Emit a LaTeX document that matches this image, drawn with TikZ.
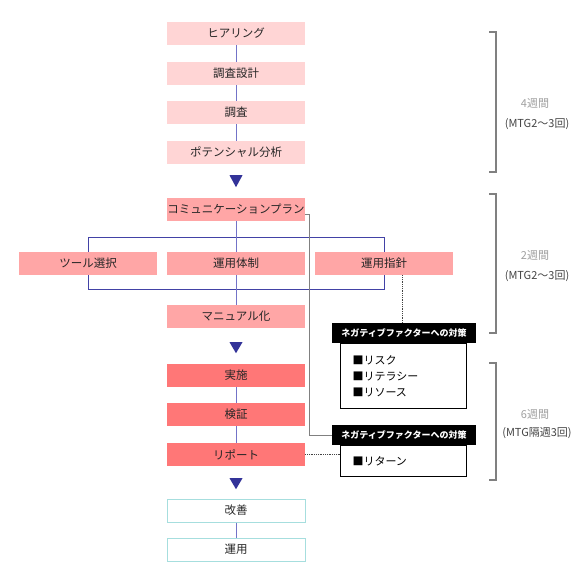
\documentclass[tikz,border=0pt]{standalone}
\usepackage{fontspec}
\setmainfont{Noto Sans CJK JP}
\usetikzlibrary{positioning, calc, backgrounds}
\definecolor{pinklt}{HTML}{FFD5D5}
\definecolor{pinkmd}{HTML}{FFA6A6}
\definecolor{pinkdk}{HTML}{FF7777}
\definecolor{cyanbd}{HTML}{A6DEDE}
\definecolor{linkblue}{HTML}{7373C8}
\definecolor{frameblue}{HTML}{4242A6}
\definecolor{navy}{HTML}{333399}
\definecolor{dkgray}{HTML}{444444}
\definecolor{ltgray}{HTML}{A0A0A0}
\definecolor{brgray}{HTML}{808080}

\begin{document}
\begin{tikzpicture}[x=1pt, y=-1pt,
  stage/.style={minimum width=138pt, minimum height=23pt, inner sep=0pt,
    font=\fontsize{11.5}{12}\selectfont, text=black!85},
  link/.style={draw=linkblue, line width=1pt},
  head/.style={fill=black, text=white, minimum width=144pt, minimum height=20pt,
    inner sep=0pt, font=\fontsize{9}{9}\selectfont\bfseries},
  memo/.style={draw=black, line width=0.8pt, minimum width=126pt, inner xsep=12pt,
    text width=101pt, align=left, font=\fontsize{11}{16}\selectfont},
  note/.style={font=\fontsize{11}{11}\selectfont}]

\useasboundingbox (0,0) rectangle (580,580);

% --- Research phase ---
\node[stage, fill=pinklt] (hear)   at (236,33.5)  {ヒアリング};
\node[stage, fill=pinklt] (design) at (236,73.5)  {調査設計};
\node[stage, fill=pinklt] (survey) at (236,112.5) {調査};
\node[stage, fill=pinklt] (anal)   at (236,152.5) {ポテンシャル分析};

\draw[link] (hear) -- (design);
\draw[link] (design) -- (survey);
\draw[link] (survey) -- (anal);

\fill[navy] ($(anal.south)+(-6.5,11)$) -- ++(13,0) -- ++(-6.5,12) -- cycle;

% --- Planning phase ---
\node[stage, fill=pinkmd] (comm)   at (236,209.5) {コミュニケーションプラン};
\node[stage, fill=pinkmd] (tool)   at (88,263.5)  {ツール選択};
\node[stage, fill=pinkmd] (system) at (236,263.5) {運用体制};
\node[stage, fill=pinkmd] (guide)  at (384,263.5) {運用指針};
\node[stage, fill=pinkmd] (manual) at (236,316.5) {マニュアル化};

\begin{scope}[on background layer]
  % Background
  \fill[white] (0,0) rectangle (580,580);
  \draw[frameblue, line width=1pt] ($(tool.center)+(0,-26)$) rectangle ($(guide.center)+(0,26)$);
  \draw[link] (comm.south) -- (manual.north);
\end{scope}

\fill[navy] ($(manual.south)+(-6.5,14)$) -- ++(13,0) -- ++(-6.5,11) -- cycle;

% --- Execution phase ---
\node[stage, fill=pinkdk] (exec)   at (236,375.5) {実施};
\node[stage, fill=pinkdk] (verify) at (236,414.5) {検証};
\node[stage, fill=pinkdk] (report) at (236,454.5) {リポート};

\draw[link] (exec) -- (verify);
\draw[link] (verify) -- (report);

\fill[navy] ($(report.south)+(-6.5,12)$) -- ++(13,0) -- ++(-6.5,11) -- cycle;

% --- Follow-up ---
\node[stage, fill=white, draw=cyanbd, line width=1pt] (improve) at (236,510.5) {改善};
\node[stage, fill=white, draw=cyanbd, line width=1pt] (operate) at (236,549.5) {運用};

\draw[link] (improve) -- (operate);

% --- Negative factor boxes ---
\node[head] (hdr1) at (404,333) {ネガティブファクターへの対策};
\node[memo, minimum height=65pt, anchor=north] (memo1) at ($(hdr1.south)+(-1,0)$)
  {■リスク\\■リテラシー\\■リソース};

\node[head] (hdr2) at (404,435) {ネガティブファクターへの対策};
\node[memo, minimum height=31pt, anchor=north] (memo2) at ($(hdr2.south)+(-1,0)$)
  {■リターン};

\draw[brgray, line width=0.8pt] ([yshift=-5pt]comm.east) -- ++(4,0) |- (hdr2.west);
\draw[dkgray, densely dotted, line width=0.8pt] ([xshift=18pt]guide.south) -- ([xshift=18pt]guide.south |- hdr1.north);
\draw[dkgray, densely dotted, line width=0.8pt] (report.east) -- (report.east -| memo2.west);

% --- Duration brackets ---
\draw[brgray, line width=1.2pt] (489,32) -- (496,32) -- (496,172) -- (489,172);
\draw[brgray, line width=1.2pt] (489,194) -- (496,194) -- (496,333) -- (489,333);
\draw[brgray, line width=1.2pt] (489,363) -- (496,363) -- (496,480) -- (489,480);

\node[note, text=ltgray] (wk1) at (535,103) {4週間};
\node[note, text=dkgray] (mtg1) at (537,124) {(MTG2～3回)};
\node[note, text=ltgray] (wk2) at (535,255) {2週間};
\node[note, text=dkgray] (mtg2) at (537,276) {(MTG2～3回)};
\node[note, text=ltgray] (wk3) at (535,414) {6週間};
\node[note, text=dkgray] (mtg3) at (537,433) {(MTG隔週3回)};

\end{tikzpicture}
\end{document}
